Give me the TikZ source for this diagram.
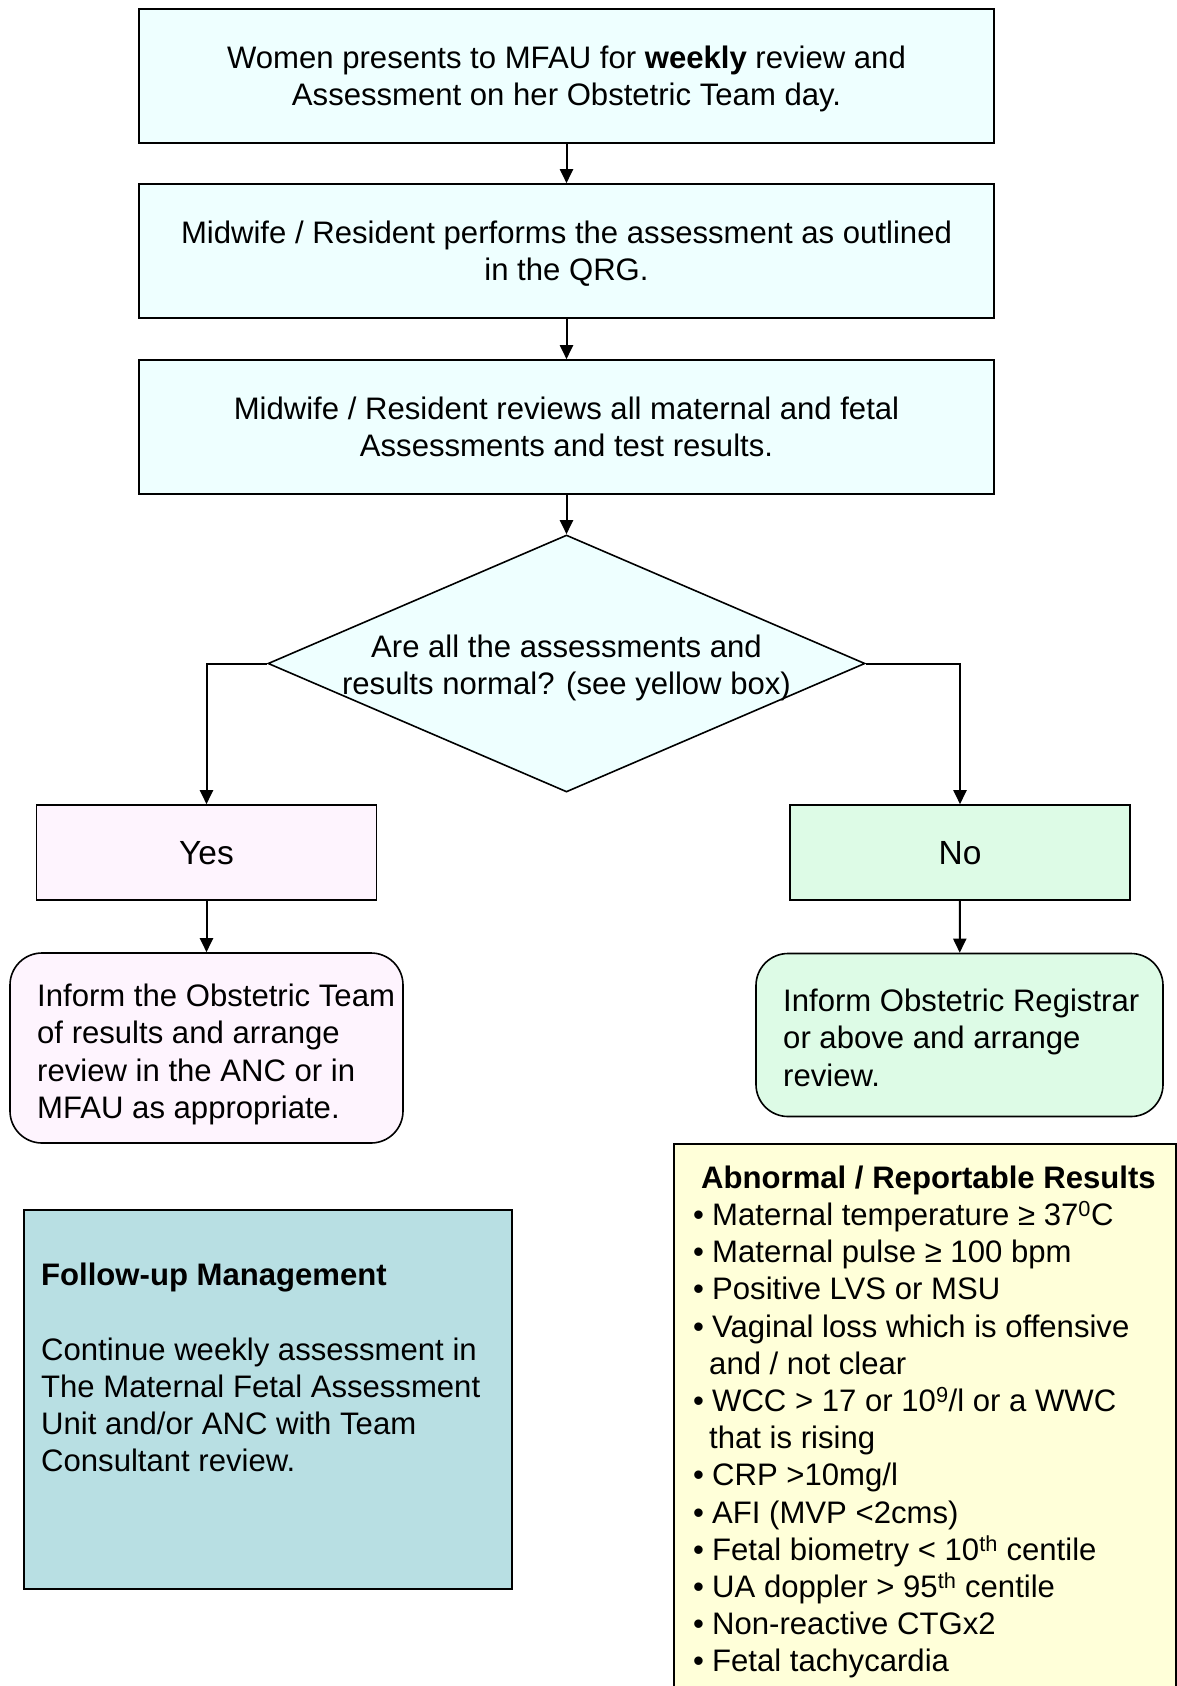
\documentclass[tikz,border=0pt]{standalone}
\usepackage{fontspec}
\setmainfont{Liberation Sans}
\usetikzlibrary{shapes.geometric,arrows.meta,calc}
\definecolor{cyanbox}{HTML}{EEFFFF}
\definecolor{yesfill}{HTML}{FEF4FE}
\definecolor{nofill}{HTML}{DDFBE6}
\definecolor{followfill}{HTML}{B8DFE3}
\definecolor{yellowfill}{HTML}{FFFFD9}
\newcommand{\bul}{\makebox[19pt][l]{•}}
\begin{document}
\begin{tikzpicture}[x=1pt,y=-1pt,
  every node/.style={font=\fontsize{31.1}{37.2}\selectfont, inner sep=0pt},
  flowbox/.style={draw, line width=1.6pt, fill=cyanbox, minimum width=855pt, minimum height=134pt, align=center, text depth=0pt},
  answerbox/.style={draw, line width=1.6pt, minimum width=340pt, minimum height=95pt, font=\fontsize{33.5}{40}\selectfont, text depth=0pt},
  roundbox/.style={draw, line width=1.6pt, rounded corners=32pt},
  txt/.style={anchor=north west, align=left},
  conn/.style={line width=2pt, -{Triangle[length=14pt,width=13pt]}}]
\useasboundingbox (0,0) rectangle (1176,1686);

\node[flowbox] (b1) at (566.5,76) {Women presents to MFAU for \textbf{weekly} review and\\Assessment on her Obstetric Team day.};
\node[flowbox] (b2) at (566.5,251) {Midwife / Resident performs the assessment as outlined\\in the QRG.};
\node[flowbox] (b3) at (566.5,427) {Midwife / Resident reviews all maternal and fetal\\Assessments and test results.};

\node[diamond, draw, line width=1.6pt, fill=cyanbox, minimum width=597pt, minimum height=257pt] (dec) at (566.5,663.5) {};
\node[align=center, text depth=0pt] (dectxt) at (566.5,665) {Are all the assessments and\\results normal? (see yellow box)};

\node[answerbox, fill=yesfill] (yes) at (206.5,852.5) {Yes};
\node[answerbox, fill=nofill] (no) at (960,852.5) {No};

\node[roundbox, fill=yesfill, minimum width=393pt, minimum height=190pt] (infL) at (206.5,1048) {};
\node[txt] (infLt) at (37,984) {Inform the Obstetric Team\\of results and arrange\\review in the ANC or in\\MFAU as appropriate.};

\node[roundbox, fill=nofill, minimum width=407pt, minimum height=163pt] (infR) at (959.5,1035) {};
\node[txt] (infRt) at (783,989) {Inform Obstetric Registrar\\or above and arrange\\review.};

\node[draw, line width=1.6pt, fill=followfill, minimum width=488pt, minimum height=379pt] (fol) at (268,1399.5) {};
\node[txt] (folt) at (41,1263) {\textbf{Follow-up Management}\\[37.2pt]Continue weekly assessment in\\The Maternal Fetal Assessment\\Unit and/or ANC with Team\\Consultant review.};

\node[draw, line width=1.6pt, fill=yellowfill, minimum width=502pt, minimum height=560pt, anchor=north west] (abn) at (673,1143) {};
\node[txt] (abnt) at (693,1165.5) {\hspace{8pt}\textbf{Abnormal / Reportable Results}\\
\bul Maternal temperature ≥ 37\textsuperscript{0}C\\
\bul Maternal pulse ≥ 100 bpm\\
\bul Positive LVS or MSU\\
\bul Vaginal loss which is offensive\\
\hspace{16pt}and / not clear\\
\bul WCC > 17 or 10\textsuperscript{9}/l or a WWC\\
\hspace{16pt}that is rising\\
\bul CRP >10mg/l\\
\bul AFI (MVP <2cms)\\
\bul Fetal biometry < 10\textsuperscript{th} centile\\
\bul UA doppler > 95\textsuperscript{th} centile\\
\bul Non-reactive CTGx2\\
\bul Fetal tachycardia};

\draw[conn] (b1) -- (b2);
\draw[conn] (b2) -- (b3);
\draw[conn] (b3) -- (dec.north);
\draw[conn] (dec.west) -| (yes.north);
\draw[conn] (dec.east) -| (no.north);
\draw[conn] (yes) -- (infL);
\draw[conn] (no) -- (infR);
\end{tikzpicture}
\end{document}
